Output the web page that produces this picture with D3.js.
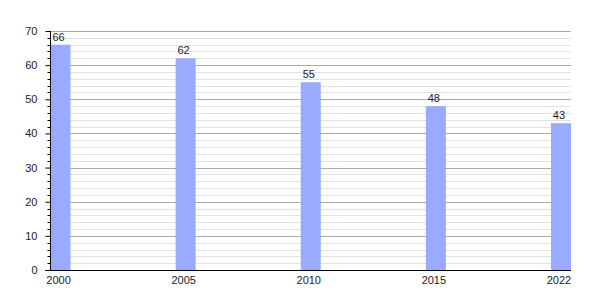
<!DOCTYPE html>
<html>
<head>
<meta charset="utf-8">
<script src="https://cdn.jsdelivr.net/npm/d3@7"></script>
<style>
  body { margin: 0; background: #fff; }
  svg text { font-family: "Liberation Sans", Arial, sans-serif; font-size: 11px; fill: #222; }
</style>
</head>
<body>
<div id="chart"></div>
<script>
const years = ['2000', '2005', '2010', '2015', '2022'];
const values = [66, 62, 55, 48, 43];
const yMajorTicks = [0, 10, 20, 30, 40, 50, 60, 70];

const width = 600, height = 300;
const margin = { top: 31, right: 29, bottom: 30, left: 50 };
const plotRight = width - margin.right;
const plotBottom = height - margin.bottom;

const svg = d3.select('#chart').append('svg')
    .attr('width', width)
    .attr('height', height);

const x = d3.scaleBand()
    .domain(years)
    .range([margin.left + 0.5, plotRight])
    .paddingInner(0.84)
    .paddingOuter(0)
    .align(0);

const y = d3.scaleLinear()
    .domain([0, 70])
    .range([plotBottom, margin.top]);

const minorTicks = d3.range(0, 71, 2).filter(v => v % 10 !== 0);

// grid lines
const grid = svg.append('g').attr('class', 'grid');
grid.selectAll('.minor')
    .data(minorTicks)
    .join('line')
    .attr('x1', margin.left).attr('x2', plotRight)
    .attr('y1', d => Math.round(y(d)) + 0.5).attr('y2', d => Math.round(y(d)) + 0.5)
    .attr('stroke', '#e2e2e2');
grid.selectAll('.major')
    .data(yMajorTicks.filter(d => d > 0))
    .join('line')
    .attr('x1', margin.left).attr('x2', plotRight)
    .attr('y1', d => Math.round(y(d)) + 0.5).attr('y2', d => Math.round(y(d)) + 0.5)
    .attr('stroke', '#aaaaaa');

// bars
svg.append('g')
    .selectAll('rect')
    .data(values)
    .join('rect')
    .attr('x', (d, i) => x(years[i]))
    .attr('y', d => y(d))
    .attr('width', x.bandwidth())
    .attr('height', d => plotBottom - y(d))
    .attr('fill', '#99aaff');

// value labels
svg.append('g')
    .selectAll('text')
    .data(values)
    .join('text')
    .attr('x', (d, i) => x(years[i]) + x.bandwidth() / 2 - 2)
    .attr('y', d => y(d) - 4)
    .attr('text-anchor', 'middle')
    .text(d => d);

// y axis
const yAxis = svg.append('g')
    .attr('transform', `translate(${margin.left + 0.5},0)`)
    .call(d3.axisLeft(y).tickValues(yMajorTicks).tickSize(5).tickPadding(8))
    .call(g => g.select('.domain').attr('d', `M0,${margin.top}V${plotBottom}`).attr('stroke', '#000'));
yAxis.selectAll('.tick line').attr('stroke', '#000');
yAxis.selectAll('.tick text').style('font-size', '11px').attr('fill', '#222');
yAxis.selectAll('.minor')
    .data(minorTicks)
    .join('line')
    .attr('class', 'minor')
    .attr('x1', -3).attr('x2', 0)
    .attr('y1', d => Math.round(y(d)) + 0.5).attr('y2', d => Math.round(y(d)) + 0.5)
    .attr('stroke', '#000');

// x axis
const xAxis = svg.append('g')
    .attr('transform', `translate(0,${plotBottom + 0.5})`)
    .call(d3.axisBottom(x).tickSize(0).tickPadding(6))
    .call(g => g.select('.domain').attr('d', `M${margin.left - 5},0H${plotRight}`).attr('stroke', '#000'));
xAxis.selectAll('.tick text')
    .style('font-size', '11px')
    .attr('fill', '#222')
    .attr('dx', -2);
</script>
</body>
</html>
